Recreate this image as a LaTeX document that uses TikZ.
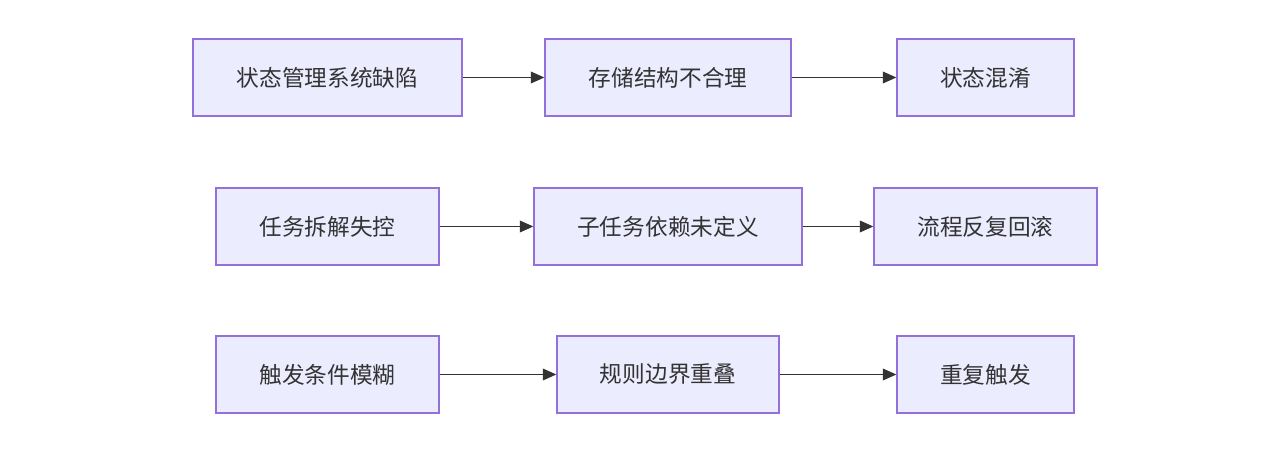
\documentclass[tikz,border=0pt]{standalone}
\usepackage{fontspec}
\usepackage{tikz}
\usetikzlibrary{arrows.meta}
\newfontfamily\cjk{Noto Sans CJK SC}
\definecolor{boxfill}{HTML}{ECECFF}
\definecolor{boxline}{HTML}{9370DB}
\definecolor{arrowgrey}{HTML}{333333}

\begin{document}
\begin{tikzpicture}[
  box/.style={draw=boxline, fill=boxfill, line width=0.7pt, minimum height=1.54cm,
    inner sep=0pt, font=\cjk\fontsize{12.9}{15}\selectfont, text=arrowgrey},
  link/.style={draw=arrowgrey, line width=1.05pt, -{Triangle[length=0.27cm, width=0.23cm]}}
]
\useasboundingbox (0,0) rectangle (25.6,-9.16);
% row 1
\node [box, minimum width=5.38cm] (defect) at (6.55,-1.55) {状态管理系统缺陷};
\node [box, minimum width=4.92cm] (storage) at (13.36,-1.55) {存储结构不合理};
\node [box, minimum width=3.54cm] (confuse) at (19.71,-1.55) {状态混淆};
% row 2
\node [box, minimum width=4.46cm] (split) at (6.55,-4.53) {任务拆解失控};
\node [box, minimum width=5.36cm] (depend) at (13.36,-4.53) {子任务依赖未定义};
\node [box, minimum width=4.46cm] (rollback) at (19.71,-4.53) {流程反复回滚};
% row 3
\node [box, minimum width=4.46cm] (trigger) at (6.55,-7.49) {触发条件模糊};
\node [box, minimum width=4.44cm] (overlap) at (13.36,-7.49) {规则边界重叠};
\node [box, minimum width=3.54cm] (repeat) at (19.71,-7.49) {重复触发};

\draw [link] (defect) -- (storage);
\draw [link] (storage) -- (confuse);
\draw [link] (split) -- (depend);
\draw [link] (depend) -- (rollback);
\draw [link] (trigger) -- (overlap);
\draw [link] (overlap) -- (repeat);
\end{tikzpicture}
\end{document}
